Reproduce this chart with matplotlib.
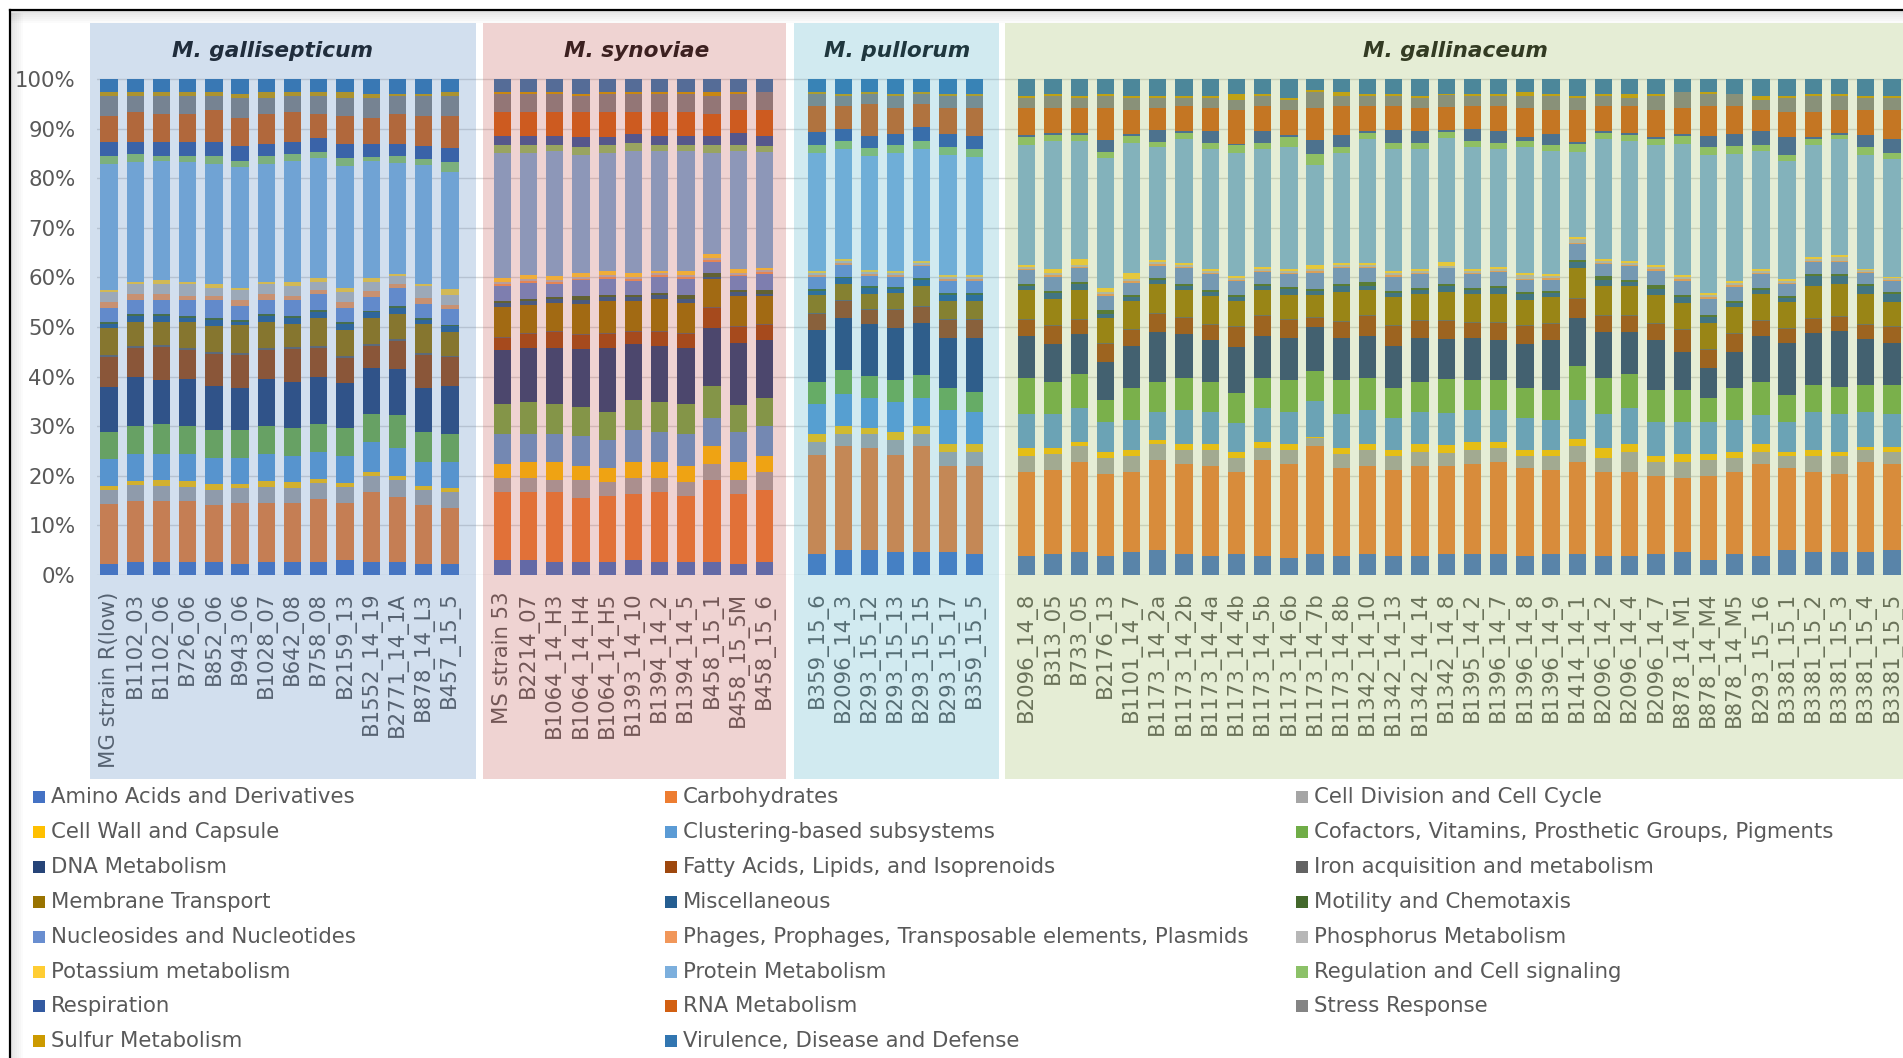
import matplotlib
matplotlib.use("Agg")
import matplotlib.pyplot as plt
import numpy as np
from matplotlib.patches import Rectangle
from matplotlib.lines import Line2D

plt.rcParams["font.family"] = ["DejaVu Sans"]

species = ["M. gallisepticum", "M. synoviae", "M. pullorum", "M. gallinaceum"]

strains_mg = ["MG strain R(low)", "B1102_03", "B1102_06", "B726_06", "B852_06",
              "B943_06", "B1028_07", "B642_08", "B758_08", "B2159_13",
              "B1552_14_19", "B2771_14_1A", "B878_14_L3", "B457_15_5"]
strains_ms = ["MS strain 53", "B2214_07", "B1064_14_H3", "B1064_14_H4",
              "B1064_14_H5", "B1393_14_10", "B1394_14_2", "B1394_14_5",
              "B458_15_1", "B458_15_5M", "B458_15_6"]
strains_mp = ["B359_15_6", "B2096_14_3", "B293_15_12", "B293_15_13",
              "B293_15_15", "B293_15_17", "B359_15_5"]
strains_mgn = ["B2096_14_8", "B313_05", "B733_05", "B2176_13", "B1101_14_7",
               "B1173_14_2a", "B1173_14_2b", "B1173_14_4a", "B1173_14_4b",
               "B1173_14_5b", "B1173_14_6b", "B1173_14_7b", "B1173_14_8b",
               "B1342_14_10", "B1342_14_13", "B1342_14_14", "B1342_14_8",
               "B1395_14_2", "B1396_14_7", "B1396_14_8", "B1396_14_9",
               "B1414_14_1", "B2096_14_2", "B2096_14_4", "B2096_14_7",
               "B878_14_M1", "B878_14_M4", "B878_14_M5", "B293_15_16",
               "B3381_15_1", "B3381_15_2", "B3381_15_3", "B3381_15_4",
               "B3381_15_5"]

categories = [
    "Amino Acids and Derivatives", "Carbohydrates", "Cell Division and Cell Cycle",
    "Cell Wall and Capsule", "Clustering-based subsystems",
    "Cofactors, Vitamins, Prosthetic Groups, Pigments", "DNA Metabolism",
    "Fatty Acids, Lipids, and Isoprenoids", "Iron acquisition and metabolism",
    "Membrane Transport", "Miscellaneous", "Motility and Chemotaxis",
    "Nucleosides and Nucleotides",
    "Phages, Prophages, Transposable elements, Plasmids",
    "Phosphorus Metabolism", "Potassium metabolism", "Protein Metabolism",
    "Regulation and Cell signaling", "Respiration", "RNA Metabolism",
    "Stress Response", "Sulfur Metabolism", "Virulence, Disease and Defense",
]

colors = ["#4472C4", "#ED7D31", "#A5A5A5", "#FFC000", "#5B9BD5", "#70AD47",
          "#264478", "#9E480E", "#636363", "#997300", "#255E91", "#43682B",
          "#698ED0", "#F1975A", "#B7B7B7", "#FFCD33", "#7CAFDD", "#8CC168",
          "#335AA1", "#D26012", "#848484", "#CC9A00", "#3276B1"]

# percent of annotated features per subsystem category;
# each list: gallisepticum | synoviae | pullorum | gallinaceum
amino = [2.3, 2.7, 2.7, 2.7, 2.7, 2.3, 2.7, 2.7, 2.7, 3.1, 2.7, 2.7, 2.3, 2.3,
         3.1, 3.1, 2.7, 2.7, 2.7, 3.1, 2.7, 2.7, 2.7, 2.3, 2.7,
         4.3, 5.1, 5.1, 4.7, 4.7, 4.7, 4.3,
         3.9, 4.3, 4.7, 3.9, 4.7, 5.1, 4.3, 3.9, 4.3, 3.9,
         3.5, 4.3, 3.9, 4.3, 3.9, 3.9, 4.3, 4.3, 4.3, 3.9,
         4.3, 4.3, 3.9, 3.9, 4.3, 4.7, 3.1, 4.3, 3.9, 5.1,
         4.7, 4.7, 4.7, 5.1]
carbohydrates = [12.1, 12.1, 12.1, 12.1, 11.3, 12.1, 11.7, 11.7, 12.5, 11.3, 14.1, 12.9, 11.7, 11.3,
                 13.7, 13.7, 14.1, 12.9, 13.3, 13.3, 14.1, 13.3, 16.5, 14.1, 14.5,
                 19.8, 21.0, 20.6, 19.4, 21.4, 17.3, 17.7,
                 16.9, 16.9, 18.1, 16.5, 16.1, 18.1, 18.1, 18.1, 16.5, 19.4,
                 19.0, 21.8, 17.7, 17.7, 17.3, 18.1, 17.7, 18.1, 18.5, 17.7,
                 16.9, 18.5, 16.9, 16.9, 15.7, 14.9, 16.9, 16.5, 18.5, 16.5,
                 16.1, 15.7, 18.1, 17.3]
cell_division = [2.8, 3.2, 3.2, 2.8, 3.2, 3.2, 3.2, 3.2, 3.2, 3.2, 3.2, 3.6, 3.2, 3.2,
                 2.8, 2.8, 2.4, 3.6, 2.8, 3.2, 2.8, 2.8, 3.2, 2.8, 3.6,
                 2.8, 2.4, 2.8, 3.2, 2.4, 2.8, 2.8,
                 3.2, 3.2, 3.2, 3.2, 3.2, 3.2, 2.8, 3.2, 2.8, 2.4,
                 2.8, 1.6, 2.8, 3.2, 2.8, 2.8, 2.8, 2.8, 2.8, 2.4,
                 2.8, 3.2, 2.8, 4.0, 2.8, 3.2, 3.2, 2.8, 2.4, 2.4,
                 3.2, 3.6, 2.4, 2.4]
cell_wall = [0.8, 0.8, 1.2, 1.2, 1.2, 0.8, 1.2, 1.2, 0.8, 0.8, 0.8, 0.8, 0.8, 0.8,
             2.8, 3.2, 3.6, 2.8, 2.8, 3.2, 3.2, 3.2, 3.6, 3.6, 3.2,
             1.6, 1.6, 1.2, 1.6, 1.6, 1.6, 1.6,
             1.6, 1.2, 0.8, 1.2, 1.2, 0.8, 1.2, 1.2, 1.2, 1.2,
             1.2, 0.2, 1.2, 1.2, 1.2, 1.6, 1.6, 1.6, 1.2, 1.2,
             1.2, 1.6, 2.0, 1.6, 1.2, 1.6, 1.2, 1.2, 1.6, 0.8,
             1.2, 0.8, 0.8, 1.2]
clustering = [5.3, 5.6, 5.2, 5.6, 5.2, 5.2, 5.6, 5.2, 5.6, 5.6, 6.0, 5.6, 4.8, 5.2,
              6.0, 5.6, 5.6, 6.0, 5.6, 6.5, 6.0, 6.5, 5.6, 6.0, 6.0,
              6.0, 6.5, 6.0, 6.0, 5.6, 6.9, 6.5,
              6.9, 6.9, 6.9, 6.0, 6.0, 5.6, 6.9, 6.5, 6.0, 6.9,
              6.5, 7.3, 6.9, 6.9, 6.5, 6.5, 6.5, 6.5, 6.5, 6.5,
              6.0, 7.7, 6.9, 7.3, 6.9, 6.5, 6.5, 6.5, 6.0, 6.0,
              7.7, 7.7, 6.9, 6.5]
cofactors = [5.6, 5.6, 6.0, 5.6, 5.6, 5.6, 5.6, 5.6, 5.6, 5.6, 5.6, 6.5, 6.0, 5.6,
             6.0, 6.5, 6.0, 6.0, 5.6, 6.0, 6.0, 6.0, 6.5, 5.6, 5.6,
             4.4, 4.8, 4.4, 4.4, 4.8, 4.4, 4.0,
             7.3, 6.5, 6.9, 4.4, 6.5, 6.0, 6.5, 6.0, 6.0, 6.0,
             6.5, 6.0, 6.9, 6.5, 6.0, 6.0, 6.9, 6.0, 6.0, 6.0,
             6.0, 6.9, 7.3, 6.9, 6.5, 6.5, 4.8, 6.5, 6.5, 5.6,
             5.6, 5.6, 5.6, 6.0]
dna = [8.9, 9.7, 8.9, 9.3, 8.9, 8.5, 9.3, 9.3, 9.3, 8.9, 9.3, 9.3, 8.9, 9.7,
       10.9, 10.9, 11.3, 11.7, 12.9, 11.3, 11.3, 11.3, 11.7, 12.5, 11.7,
       10.5, 10.5, 10.5, 10.5, 10.5, 10.1, 10.9,
       8.5, 7.7, 8.1, 7.7, 8.5, 10.1, 8.9, 8.5, 9.3, 8.5,
       8.5, 8.9, 8.5, 8.5, 8.5, 8.9, 8.1, 8.5, 8.1, 8.9,
       10.1, 9.7, 9.3, 8.5, 10.1, 7.7, 6.0, 7.3, 9.3, 10.5,
       10.5, 11.3, 9.3, 8.5]
fatty_acids = [6.2, 6.0, 6.5, 6.0, 6.5, 6.5, 6.0, 6.5, 6.0, 5.2, 4.4, 5.6, 6.5, 6.0,
               2.4, 2.8, 3.2, 2.8, 2.8, 2.4, 2.8, 2.8, 4.0, 3.2, 3.2,
               3.2, 3.6, 2.8, 3.6, 3.2, 3.6, 3.6,
               3.2, 3.6, 2.8, 3.6, 3.2, 3.6, 3.2, 3.2, 4.0, 4.0,
               3.6, 2.0, 3.2, 4.0, 4.0, 3.6, 3.6, 3.2, 3.6, 3.6,
               3.2, 4.0, 3.2, 3.2, 3.2, 4.4, 3.6, 3.6, 3.2, 2.8,
               2.8, 2.8, 2.8, 3.2]
iron = [0.4, 0.4, 0.4, 0.4, 0.4, 0.4, 0.4, 0.4, 0.4, 0.4, 0.4, 0.4, 0.4, 0.2,
        0.2, 0.2, 0.2, 0.2, 0.2, 0.2, 0.2, 0.2, 0.2, 0.2, 0.2,
        0.2, 0.2, 0.2, 0.2, 0.2, 0.2, 0.2,
        0.2, 0.2, 0.2, 0.2, 0.2, 0.2, 0.2, 0.2, 0.2, 0.2,
        0.2, 0.2, 0.2, 0.2, 0.2, 0.2, 0.2, 0.2, 0.2, 0.2,
        0.2, 0.2, 0.2, 0.2, 0.2, 0.2, 0.2, 0.2, 0.2, 0.2,
        0.2, 0.2, 0.2, 0.2]
membrane = [5.4, 4.8, 4.8, 5.2, 5.2, 5.6, 5.2, 4.8, 5.6, 5.2, 5.2, 5.2, 6.0, 4.8,
            6.0, 5.6, 5.6, 6.0, 6.5, 6.0, 6.5, 6.0, 5.6, 6.0, 5.6,
            3.6, 3.2, 3.2, 3.2, 4.0, 3.6, 3.6,
            6.0, 5.2, 6.0, 5.2, 5.6, 6.0, 5.6, 5.6, 5.2, 5.2,
            4.8, 4.4, 6.0, 5.2, 5.6, 5.2, 5.6, 5.6, 5.6, 5.2,
            5.2, 6.0, 6.0, 6.0, 5.6, 5.2, 5.2, 5.2, 5.2, 5.2,
            6.5, 6.5, 6.0, 4.8]
miscellaneous = [0.8, 1.2, 1.2, 0.8, 1.2, 0.8, 1.2, 1.2, 1.2, 1.2, 1.2, 1.2, 0.8, 1.2,
                 0.8, 0.8, 0.8, 0.8, 0.8, 0.8, 0.8, 0.8, 0.4, 0.8, 0.4,
                 0.8, 1.2, 1.2, 0.8, 1.2, 1.2, 1.2,
                 0.8, 1.2, 1.2, 0.8, 0.8, 0.8, 0.8, 0.8, 0.8, 0.8,
                 1.2, 0.8, 1.2, 0.8, 0.8, 0.8, 1.2, 0.8, 1.2, 1.2,
                 0.8, 1.2, 1.2, 0.8, 1.2, 1.2, 1.2, 0.8, 0.8, 0.8,
                 2.0, 1.6, 1.6, 1.6]
motility = [0.4, 0.4, 0.4, 0.4, 0.4, 0.4, 0.4, 0.4, 0.4, 0.4, 0.2, 0.4, 0.4, 0.2,
            0.4, 0.4, 0.4, 0.8, 0.4, 0.4, 0.4, 0.8, 0.8, 0.4, 0.8,
            0.4, 0.2, 0.4, 0.4, 0.4, 0.4, 0.4,
            0.4, 0.4, 0.4, 0.8, 0.4, 0.4, 0.4, 0.4, 0.4, 0.4,
            0.4, 0.4, 0.4, 0.8, 0.4, 0.4, 0.4, 0.4, 0.4, 0.4,
            0.4, 0.4, 0.8, 0.4, 0.8, 0.4, 0.4, 0.4, 0.4, 0.4,
            0.4, 0.4, 0.4, 0.4]
nucleosides = [2.8, 2.8, 2.8, 3.2, 3.6, 2.8, 2.8, 3.2, 3.2, 2.8, 2.8, 3.6, 2.8, 3.2,
               3.2, 3.2, 2.8, 3.2, 3.2, 2.8, 3.2, 3.2, 2.4, 2.8, 3.2,
               2.4, 2.4, 2.0, 2.0, 2.4, 2.4, 2.4,
               2.8, 2.8, 2.8, 2.8, 2.4, 2.4, 3.2, 3.2, 2.8, 2.4,
               2.8, 3.2, 3.2, 2.8, 2.8, 2.8, 3.2, 2.8, 2.8, 2.4,
               2.4, 3.2, 2.4, 2.8, 2.8, 2.8, 3.2, 2.8, 2.8, 2.4,
               2.4, 2.4, 2.4, 2.4]
phages = [1.2, 1.2, 1.2, 0.8, 0.8, 1.2, 1.2, 0.8, 0.8, 1.2, 1.2, 0.8, 1.2, 0.8,
          0.4, 0.4, 0.4, 0.2, 0.4, 0.4, 0.4, 0.4, 0.4, 0.2, 0.4,
          0.4, 0.4, 0.4, 0.4, 0.2, 0.4, 0.4,
          0.2, 0.4, 0.2, 0.4, 0.4, 0.4, 0.2, 0.2, 0.2, 0.2,
          0.2, 0.4, 0.2, 0.2, 0.4, 0.2, 0.2, 0.2, 0.2, 0.2,
          0.4, 0.2, 0.2, 0.2, 0.4, 0.4, 0.4, 0.4, 0.2, 0.2,
          0.2, 0.2, 0.2, 0.2]
phosphorus = [2.1, 2.0, 2.0, 2.4, 1.6, 2.0, 2.0, 2.0, 1.6, 2.0, 2.0, 1.6, 2.4, 2.0,
              0.4, 0.4, 0.4, 0.4, 0.4, 0.4, 0.4, 0.4, 0.4, 0.4, 0.4,
              0.4, 0.4, 0.4, 0.4, 0.4, 0.4, 0.4,
              0.4, 0.4, 0.4, 0.4, 0.4, 0.4, 0.4, 0.4, 0.4, 0.4,
              0.4, 0.4, 0.4, 0.4, 0.4, 0.4, 0.4, 0.4, 0.4, 0.8,
              0.4, 0.8, 0.4, 0.4, 0.4, 0.4, 0.4, 0.4, 0.4, 0.4,
              0.4, 0.8, 0.4, 0.4]
potassium = [0.4, 0.4, 0.8, 0.4, 0.8, 0.4, 0.4, 0.8, 0.8, 0.8, 0.8, 0.4, 0.4, 1.2,
             0.8, 0.8, 0.8, 0.8, 0.8, 0.8, 0.4, 0.8, 0.8, 0.8, 0.4,
             0.4, 0.4, 0.4, 0.4, 0.4, 0.4, 0.4,
             0.4, 0.8, 1.2, 0.8, 1.2, 0.4, 0.4, 0.4, 0.4, 0.4,
             0.4, 0.8, 0.4, 0.4, 0.4, 0.4, 0.8, 0.4, 0.4, 0.4,
             0.4, 0.4, 0.4, 0.4, 0.4, 0.4, 0.4, 0.4, 0.4, 0.4,
             0.4, 0.4, 0.2, 0.2]
protein = [25.4, 24.2, 23.8, 24.2, 24.2, 24.2, 23.8, 24.2, 24.2, 24.6, 23.4, 22.2, 23.8, 23.8,
           25.0, 24.6, 25.0, 23.8, 23.8, 24.6, 24.2, 24.2, 20.2, 23.8, 23.4,
           23.8, 22.2, 23.0, 23.8, 22.6, 24.2, 23.8,
           24.2, 25.8, 23.8, 26.2, 26.2, 22.6, 25.0, 24.2, 25.0, 23.8,
           24.6, 20.2, 22.2, 25.0, 24.6, 24.2, 25.0, 24.6, 23.8, 25.4,
           24.6, 17.3, 24.2, 24.2, 24.2, 26.6, 27.8, 25.8, 23.8, 23.8,
           22.6, 23.4, 23.0, 23.8]
regulation = [1.6, 1.6, 1.2, 1.2, 1.6, 1.2, 1.6, 1.6, 1.2, 1.6, 0.8, 1.6, 1.2, 2.0,
              1.6, 1.6, 1.2, 1.6, 1.6, 1.6, 1.2, 1.2, 1.6, 1.2, 1.2,
              1.6, 1.6, 1.6, 1.6, 1.6, 1.6, 1.6,
              1.6, 1.2, 1.2, 1.2, 1.6, 1.2, 1.2, 1.2, 1.6, 1.2,
              2.0, 2.4, 1.2, 1.2, 1.2, 1.2, 1.2, 1.2, 1.2, 1.2,
              1.2, 1.6, 1.2, 1.2, 1.2, 1.6, 1.6, 1.6, 1.2, 1.2,
              1.2, 0.8, 1.6, 1.2]
respiration = [2.8, 2.4, 2.8, 2.8, 2.8, 3.2, 2.4, 2.4, 2.8, 2.8, 2.8, 2.4, 2.8, 2.8,
               2.0, 2.0, 2.0, 2.0, 1.6, 2.0, 2.0, 2.0, 2.0, 2.4, 2.0,
               2.8, 2.4, 2.4, 2.4, 2.8, 2.8, 2.8,
               0.4, 0.4, 0.4, 2.4, 0.4, 2.4, 0.4, 2.4, 0.2, 2.4,
               0.4, 2.8, 2.4, 0.4, 2.8, 2.4, 0.4, 2.4, 2.4, 0.8,
               2.4, 0.4, 0.4, 0.4, 0.4, 0.4, 2.4, 2.4, 2.8, 3.6,
               0.4, 0.4, 2.4, 2.8]
rna = [5.2, 6.0, 5.6, 5.6, 6.5, 5.6, 6.0, 6.0, 4.8, 5.6, 5.2, 6.0, 6.0, 6.5,
       4.8, 4.8, 4.8, 5.2, 5.2, 4.4, 4.8, 4.8, 4.4, 4.8, 5.2,
       5.2, 4.8, 6.5, 5.2, 4.8, 5.2, 5.6,
       5.6, 5.2, 5.2, 6.5, 4.8, 4.4, 5.2, 4.8, 6.9, 5.2,
       5.2, 6.5, 6.0, 5.2, 4.8, 4.8, 4.8, 4.8, 5.2, 6.0,
       4.8, 6.5, 5.2, 5.6, 5.6, 5.2, 6.0, 5.6, 4.4, 5.2,
       5.2, 4.8, 5.2, 6.0]
stress = [4.1, 3.2, 3.6, 3.6, 2.8, 4.0, 3.2, 3.2, 3.6, 3.6, 4.0, 3.6, 4.0, 4.0,
          3.6, 3.6, 3.6, 3.2, 3.6, 3.6, 3.6, 3.6, 3.6, 3.2, 3.6,
          2.4, 2.0, 2.0, 2.4, 2.0, 2.4, 2.4,
          2.0, 2.4, 2.0, 2.4, 2.4, 2.0, 1.6, 2.0, 2.0, 2.0,
          2.0, 3.2, 2.0, 2.0, 2.0, 2.0, 2.4, 2.0, 2.0, 2.4,
          2.8, 2.4, 2.0, 1.6, 2.8, 3.2, 2.4, 2.4, 2.0, 2.8,
          3.2, 2.8, 2.4, 2.4]
sulfur = [0.8, 0.8, 0.8, 0.8, 0.8, 0.8, 1.2, 0.8, 0.8, 1.2, 0.8, 0.4, 0.4, 0.8,
          0.4, 0.4, 0.4, 0.4, 0.4, 0.4, 0.4, 0.4, 0.8, 0.4, 0.1,
          0.4, 0.4, 0.4, 0.4, 0.4, 0.4, 0.4,
          0.4, 0.4, 0.4, 0.4, 0.4, 0.4, 0.4, 0.4, 1.2, 0.4,
          0.4, 0.4, 0.8, 0.4, 0.4, 0.4, 0.2, 0.4, 0.4, 0.8,
          0.4, 0.4, 0.4, 0.8, 0.4, 0.1, 0.4, 0.1, 0.8, 0.4,
          0.4, 0.4, 0.4, 0.4]
virulence = [2.6, 2.6, 2.6, 2.6, 2.6, 3.0, 2.6, 2.6, 2.6, 2.6, 3.0, 3.0, 3.0, 2.6,
             2.6, 2.6, 2.6, 3.0, 2.6, 2.6, 2.6, 2.6, 2.6, 2.6, 2.6,
             2.6, 3.0, 2.6, 3.0, 2.6, 3.0, 3.0,
             3.4, 3.0, 3.4, 3.0, 3.4, 3.4, 3.4, 3.4, 3.0, 3.0,
             3.8, 2.2, 2.6, 3.0, 3.0, 3.4, 3.0, 3.0, 3.0, 2.6,
             3.0, 3.4, 3.0, 3.0, 3.0, 2.6, 2.6, 3.0, 3.4, 3.4,
             3.0, 3.0, 3.4, 3.4]


def plot():
    W, H = 1903, 1058
    fig = plt.figure(figsize=(W / 100, H / 100), dpi=100)
    fig.patch.set_facecolor("white")

    def fx(px):
        return px / W

    def fy(py):
        return 1 - py / H

    # one empty slot between species
    groups = [strains_mg, strains_ms, strains_mp, strains_mgn]
    labels, xpos = [], []
    slot = 0
    for g in groups:
        labels += g
        xpos += list(range(slot, slot + len(g)))
        slot += len(g) + 1

    series = [amino, carbohydrates, cell_division, cell_wall, clustering,
              cofactors, dna, fatty_acids, iron, membrane, miscellaneous,
              motility, nucleosides, phages, phosphorus, potassium, protein,
              regulation, respiration, rna, stress, sulfur, virulence]
    values = np.array(series)
    shares = values / values.sum(axis=0)

    ax = fig.add_axes([fx(97), fy(575), fx(1903) - fx(97), (575 - 74) / H])
    bottom = np.zeros(len(xpos))
    for share, color in zip(shares, colors):
        ax.bar(xpos, share, bottom=bottom, width=0.66, color=color, linewidth=0)
        bottom += share

    ax.set_xlim(-0.458, 68.42)
    ax.set_ylim(0, 1.01)
    ax.set_yticks(np.linspace(0, 1, 11))
    ax.set_yticklabels([f"{p}%" for p in range(0, 101, 10)])
    ax.set_xticks(xpos)
    ax.set_xticklabels(labels, rotation=90, ha="center", va="top")
    ax.tick_params(axis="both", length=0, labelsize=15.3, colors="#595959")
    ax.tick_params(axis="y", pad=15.5)
    ax.tick_params(axis="x", pad=12)
    ax.grid(axis="y", color="#D9D9D9", linewidth=1.0)
    ax.set_axisbelow(True)
    ax.patch.set_alpha(0)
    for s in ax.spines.values():
        s.set_visible(False)

    # species titles, tinted by the panels laid over them
    for name, cx in zip(species, [273, 637, 897, 1455]):
        fig.text(fx(cx), fy(57), name, ha="center", va="baseline",
                 fontsize=15.6, fontweight="bold", style="italic",
                 color="#111111", zorder=1)

    # translucent species panels over bars and labels
    panels = [(90, 476, "#4F81BD"), (483, 786, "#C0504D"),
              (794, 999, "#4BACC6"), (1005, 1905, "#9BBB59")]
    for x0, x1, c in panels:
        fig.add_artist(Rectangle((fx(x0), fy(779)), fx(x1) - fx(x0), (779 - 23) / H,
                                 transform=fig.transFigure, facecolor=c,
                                 alpha=0.25, linewidth=0, zorder=2))

    # legend, three columns filled row by row
    marker_x = [33, 665, 1296]
    text_x = [51, 683, 1314]
    for i, (cat, c) in enumerate(zip(categories, colors)):
        row, col = divmod(i, 3)
        yc = 797 + row * 34.9
        fig.add_artist(Rectangle((fx(marker_x[col]), fy(yc + 6)), 12 / W, 12 / H,
                                 transform=fig.transFigure, facecolor=c,
                                 linewidth=0, zorder=3))
        fig.text(fx(text_x[col]), fy(yc), cat, ha="left", va="center",
                 fontsize=15.3, color="#595959", zorder=3)

    # outer frame with a soft shadow along the top and left edges
    for k in range(6):
        a = 0.10 * (1 - k / 6)
        fig.add_artist(Rectangle((fx(11), fy(13 + 2 * k)), 1 - fx(11), 2 / H,
                                 transform=fig.transFigure, facecolor="black",
                                 alpha=a, linewidth=0, zorder=1))
        fig.add_artist(Rectangle((fx(11 + 2 * k), 0), 2 / W, fy(13),
                                 transform=fig.transFigure, facecolor="black",
                                 alpha=a, linewidth=0, zorder=1))
    fig.add_artist(Line2D([fx(10), 1], [fy(10), fy(10)], color="black",
                          linewidth=1.6, transform=fig.transFigure, zorder=4))
    fig.add_artist(Line2D([fx(10), fx(10)], [fy(10), 0], color="black",
                          linewidth=1.6, transform=fig.transFigure, zorder=4))

    fig.savefig("out.png", dpi=100)
    plt.close(fig)


plot()
